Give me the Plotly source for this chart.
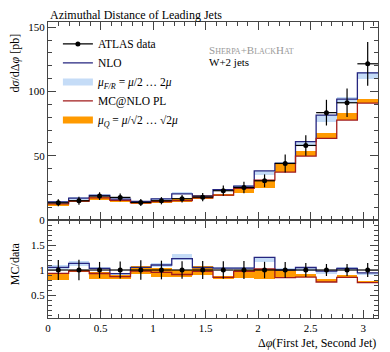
import numpy as np
import plotly.graph_objects as go

# binning: 16 equal bins in delta phi from 0 to pi
nbins = 16
edges = np.pi / nbins * np.arange(nbins + 1)
centers = 0.5 * (edges[:-1] + edges[1:])
width = edges[1] - edges[0]

# ATLAS data [pb]
data_val = [13.4, 15.0, 18.6, 17.6, 13.7, 15.0, 16.6, 17.8,
            22.8, 25.3, 30.5, 44.0, 58.0, 83.5, 91.2, 121.5]
data_err = [2.7, 3.1, 3.0, 3.0, 2.7, 2.8, 2.9, 3.2,
            4.0, 4.5, 5.0, 7.0, 8.0, 10.0, 11.0, 17.0]

# NLO (Sherpa+BlackHat) central value and mu_F/R band
nlo_val = [14.1, 17.0, 19.2, 16.3, 14.4, 16.5, 20.4, 18.7,
           23.7, 26.3, 38.2, 44.0, 60.9, 81.6, 94.0, 114.5]
nlo_lo = [13.7, 16.3, 18.8, 15.9, 14.0, 16.0, 20.0, 18.2,
          23.2, 25.7, 35.3, 43.0, 57.3, 76.5, 90.8, 109.3]
nlo_hi = [14.8, 17.8, 19.8, 16.7, 14.8, 17.0, 21.8, 19.3,
          24.2, 27.0, 38.5, 45.5, 61.5, 82.0, 95.8, 115.2]

# MC@NLO parton level central value and mu_Q band
mc_val = [12.5, 14.7, 17.3, 15.3, 13.4, 14.3, 15.1, 17.3,
          19.4, 24.6, 31.1, 37.3, 49.7, 63.5, 77.7, 90.9]
mc_lo = [10.7, 14.3, 15.4, 14.6, 12.5, 13.0, 14.4, 16.0,
         18.6, 21.2, 25.1, 37.0, 49.7, 63.5, 77.7, 90.7]
mc_hi = [12.7, 15.0, 17.7, 15.8, 14.7, 15.5, 16.6, 19.2,
         20.2, 25.5, 31.1, 43.6, 53.6, 67.8, 82.9, 94.5]

C_NLO = "#25257f"
C_NLO_BAND = "#c5dcf7"
C_MC = "#a11b1b"
C_MC_BAND = "#ff9a00"
FONT = "Liberation Serif"

d = np.array(data_val)


def steps(vals):
    return list(edges), list(vals) + [vals[-1]]


def band(lo, hi, color, xa, ya):
    lo = np.array(lo); hi = np.array(hi)
    return go.Bar(x=centers, y=hi - lo, base=lo, width=width,
                  marker=dict(color=color, line=dict(width=0)),
                  showlegend=False, xaxis=xa, yaxis=ya, hoverinfo="skip")


def line(vals, color, xa, ya, name=None, show=False):
    x, y = steps(vals)
    return go.Scatter(x=x, y=y, mode="lines", line=dict(color=color, width=1.3, shape="hv"),
                      name=name, showlegend=show, xaxis=xa, yaxis=ya)


fig = go.Figure()

# main panel
fig.add_trace(band(nlo_lo, nlo_hi, C_NLO_BAND, "x", "y"))
fig.add_trace(band(mc_lo, mc_hi, C_MC_BAND, "x", "y"))
fig.add_trace(line(nlo_val, C_NLO, "x", "y"))
fig.add_trace(line(mc_val, C_MC, "x", "y"))
fig.add_trace(go.Scatter(x=centers, y=data_val, mode="markers",
                         marker=dict(color="black", size=5),
                         error_y=dict(type="data", array=data_err, color="black", thickness=1.2, width=0),
                         error_x=dict(type="data", array=[width / 2] * nbins, color="black", thickness=1.2, width=0),
                         showlegend=False, xaxis="x", yaxis="y"))

# ratio panel (MC / data)
fig.add_trace(band(np.array(nlo_lo) / d, np.array(nlo_hi) / d, C_NLO_BAND, "x2", "y2"))
fig.add_trace(band(np.array(mc_lo) / d, np.array(mc_hi) / d, C_MC_BAND, "x2", "y2"))
fig.add_trace(line(np.array(nlo_val) / d, C_NLO, "x2", "y2"))
fig.add_trace(line(np.array(mc_val) / d, C_MC, "x2", "y2"))
fig.add_trace(go.Scatter(x=centers, y=d / d, mode="markers",
                         marker=dict(color="black", size=5),
                         error_y=dict(type="data", array=np.array(data_err) / d, color="black", thickness=1.2, width=0),
                         error_x=dict(type="data", array=[width / 2] * nbins, color="black", thickness=1.2, width=0),
                         showlegend=False, xaxis="x2", yaxis="y2"))

# legend entries
fig.add_trace(go.Scatter(x=[None], y=[None], mode="lines+markers", name="ATLAS data",
                         line=dict(color="black", width=1.3), marker=dict(color="black", size=5)))
fig.add_trace(go.Scatter(x=[None], y=[None], mode="lines", name="NLO",
                         line=dict(color=C_NLO, width=1.3)))
fig.add_trace(go.Scatter(x=[None], y=[None], mode="lines",
                         name="<i>μ</i><sub><i>F/R</i></sub> = <i>μ</i>/2 … 2<i>μ</i>",
                         line=dict(color=C_NLO_BAND, width=7)))
fig.add_trace(go.Scatter(x=[None], y=[None], mode="lines", name="MC@NLO PL",
                         line=dict(color=C_MC, width=1.3)))
fig.add_trace(go.Scatter(x=[None], y=[None], mode="lines",
                         name="<i>μ</i><sub><i>Q</i></sub> = <i>μ</i>/√2 … √2<i>μ</i>",
                         line=dict(color=C_MC_BAND, width=7)))

axis_common = dict(showline=True, linecolor="#444", linewidth=1, mirror="ticks",
                   ticks="inside", tickcolor="#444", showgrid=False, zeroline=False,
                   automargin=False, tickfont=dict(family=FONT, size=11, color="black"))
minor_common = dict(ticklen=4, ticks="inside", tickcolor="#444")

# the page body adds an 8px offset, so the figure is drawn 8px smaller
fig.update_layout(
    width=382, height=344,
    margin=dict(l=40, r=12, t=14, b=34),
    paper_bgcolor="white", plot_bgcolor="white",
    barmode="overlay", bargap=0,
    font=dict(family=FONT, size=12, color="black"),
    xaxis=dict(domain=[0, 1], range=[0, np.pi], anchor="y", dtick=0.5, ticklen=8,
               showticklabels=False, minor=dict(dtick=0.1, **minor_common), **axis_common),
    yaxis=dict(domain=[0.331, 1], range=[0, 154], anchor="x", dtick=50, ticklen=8,
               minor=dict(dtick=10, **minor_common), **axis_common),
    xaxis2=dict(domain=[0, 1], range=[0, np.pi], anchor="y2", matches="x", dtick=0.5, ticklen=8,
                minor=dict(dtick=0.1, **minor_common), **axis_common),
    yaxis2=dict(domain=[0, 0.331], range=[0.04, 2.0], anchor="x2", tickvals=[0.5, 1, 1.5], ticklen=8,
                minor=dict(dtick=0.1, **minor_common), **axis_common),
    legend=dict(x=0.03, y=0.975, xanchor="left", yanchor="top", bgcolor="rgba(0,0,0,0)",
                font=dict(family=FONT, size=11.5), tracegroupgap=0, itemwidth=30),
    annotations=[
        dict(text="Azimuthal Distance of Leading Jets", x=0, y=1.0235, xref="paper", yref="paper",
             xanchor="left", yanchor="middle", showarrow=False, font=dict(size=12)),
        dict(text="S<span style='font-size:8px'>HERPA</span>+B<span style='font-size:8px'>LACK</span>H<span style='font-size:8px'>AT</span>",
             x=0.482, y=0.905, xref="paper", yref="paper", xanchor="left", yanchor="middle",
             showarrow=False, font=dict(size=11, color="#999999")),
        dict(text="W+2 jets", x=0.482, y=0.865, xref="paper", yref="paper", xanchor="left",
             yanchor="middle", showarrow=False, font=dict(size=11)),
        dict(text="d<i>σ</i>/dΔ<i>φ</i> [pb]", x=-0.1, y=0.86, xref="paper", yref="paper",
             xanchor="center", yanchor="middle", textangle=-90, showarrow=False, font=dict(size=12)),
        dict(text="MC/data", x=-0.1, y=0.182, xref="paper", yref="paper",
             xanchor="center", yanchor="middle", textangle=-90, showarrow=False, font=dict(size=12)),
        dict(text="Δ<i>φ</i>(First Jet, Second Jet)", x=1, y=-0.085, xref="paper", yref="paper",
             xanchor="right", yanchor="middle", showarrow=False, font=dict(size=12)),
    ],
)

fig.write_html("out.html")
